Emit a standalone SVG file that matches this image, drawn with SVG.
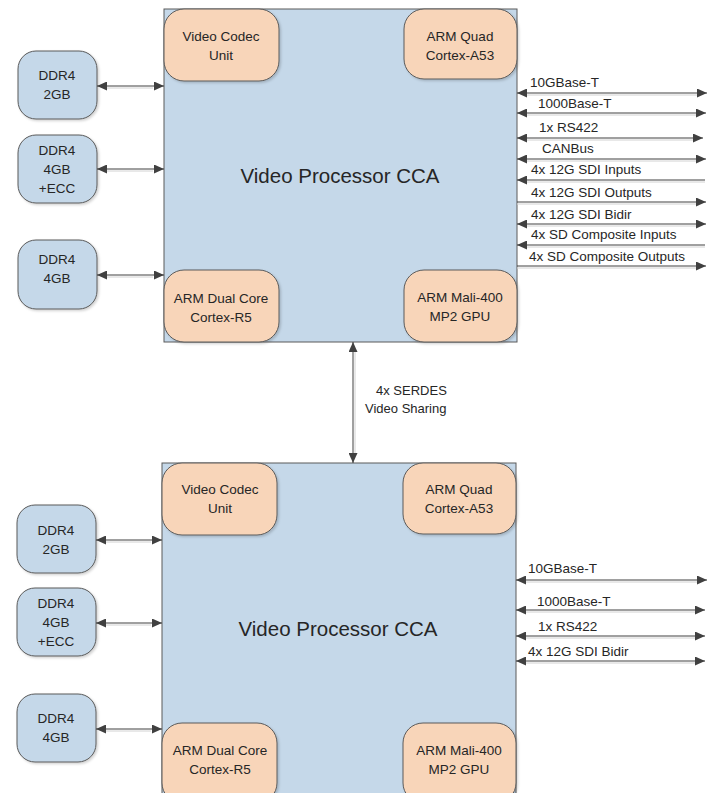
<svg xmlns="http://www.w3.org/2000/svg" width="714" height="793" viewBox="0 0 714 793">
  <defs>
    <marker id="ah" viewBox="0 0 10 9" refX="10" refY="4.5" markerWidth="10" markerHeight="9" markerUnits="userSpaceOnUse" orient="auto-start-reverse">
      <path d="M0,0 L10,4.5 L0,9 z" fill="#404040"/>
    </marker>
    <filter id="sh" x="-10%" y="-10%" width="125%" height="125%">
      <feDropShadow dx="1.5" dy="1.5" stdDeviation="1" flood-color="#000" flood-opacity="0.18"/>
    </filter>
  </defs>
  <style>
    .cca { fill: #c5d8e9; stroke: #5a5a5a; stroke-width: 1; }
    .mem { fill: #c5d8e9; stroke: #5a5a5a; stroke-width: 1; filter: url(#sh); }
    .core { fill: #f8d5b9; stroke: #5a5a5a; stroke-width: 1; filter: url(#sh); }
    text { font-family: "Liberation Sans", Arial, sans-serif; fill: #262626; }
    .t { font-size: 13.5px; text-anchor: middle; }
    .title { font-size: 20.5px; text-anchor: middle; }
    .lbl { font-size: 13.5px; }
    .mid { font-size: 13px; }
    .w { stroke: #404040; stroke-width: 1; fill: none; }
    .ws { stroke: #d2d2d2; stroke-width: 1; fill: none; }
    .both { marker-start: url(#ah); marker-end: url(#ah); }
    .in { marker-start: url(#ah); }
    .out { marker-end: url(#ah); }
  </style>

  <rect width="714" height="793" fill="#ffffff"/>

  <!-- ===== Upper board ===== -->
  <g id="cca-upper">
    <rect class="cca" x="164" y="9" width="353" height="333"/>
    <text class="title" x="340" y="183">Video Processor CCA</text>
  </g>
  <g id="codec-upper">
    <rect class="core" x="164" y="9" width="115" height="72" rx="20"/>
    <text class="t" x="221" y="41">Video Codec</text>
    <text class="t" x="221" y="60">Unit</text>
  </g>
  <g id="a53-upper">
    <rect class="core" x="404" y="9" width="113" height="70" rx="20"/>
    <text class="t" x="460" y="41">ARM Quad</text>
    <text class="t" x="460" y="60">Cortex-A53</text>
  </g>
  <g id="r5-upper">
    <rect class="core" x="164" y="270" width="115" height="72" rx="20"/>
    <text class="t" x="221" y="303">ARM Dual Core</text>
    <text class="t" x="221" y="322">Cortex-R5</text>
  </g>
  <g id="gpu-upper">
    <rect class="core" x="404" y="270" width="113" height="72" rx="20"/>
    <text class="t" x="460" y="302">ARM Mali-400</text>
    <text class="t" x="460" y="321">MP2 GPU</text>
  </g>
  <g id="ddr-2gb-upper">
    <rect class="mem" x="18" y="51" width="79" height="68" rx="18"/>
    <text class="t" x="57" y="80">DDR4</text>
    <text class="t" x="57" y="99">2GB</text>
  </g>
  <g id="ddr-ecc-upper">
    <rect class="mem" x="18" y="135" width="79" height="68" rx="18"/>
    <text class="t" x="57" y="155">DDR4</text>
    <text class="t" x="57" y="174">4GB</text>
    <text class="t" x="57" y="193">+ECC</text>
  </g>
  <g id="ddr-4gb-upper">
    <rect class="mem" x="18" y="240" width="79" height="69" rx="18"/>
    <text class="t" x="57" y="264">DDR4</text>
    <text class="t" x="57" y="283">4GB</text>
  </g>

  <!-- ===== Lower board ===== -->
  <g id="cca-lower">
    <rect class="cca" x="162" y="463" width="354" height="340"/>
    <text class="title" x="338" y="636">Video Processor CCA</text>
  </g>
  <g id="codec-lower">
    <rect class="core" x="162" y="463" width="115" height="72" rx="20"/>
    <text class="t" x="220" y="494">Video Codec</text>
    <text class="t" x="220" y="513">Unit</text>
  </g>
  <g id="a53-lower">
    <rect class="core" x="403" y="463" width="113" height="71" rx="20"/>
    <text class="t" x="459" y="494">ARM Quad</text>
    <text class="t" x="459" y="513">Cortex-A53</text>
  </g>
  <g id="r5-lower">
    <rect class="core" x="162" y="723" width="115" height="80" rx="20"/>
    <text class="t" x="220" y="755">ARM Dual Core</text>
    <text class="t" x="220" y="774">Cortex-R5</text>
  </g>
  <g id="gpu-lower">
    <rect class="core" x="403" y="723" width="113" height="80" rx="20"/>
    <text class="t" x="459" y="755">ARM Mali-400</text>
    <text class="t" x="459" y="774">MP2 GPU</text>
  </g>
  <g id="ddr-2gb-lower">
    <rect class="mem" x="17" y="505" width="79" height="68" rx="18"/>
    <text class="t" x="56" y="535">DDR4</text>
    <text class="t" x="56" y="554">2GB</text>
  </g>
  <g id="ddr-ecc-lower">
    <rect class="mem" x="17" y="588" width="79" height="68" rx="18"/>
    <text class="t" x="56" y="608">DDR4</text>
    <text class="t" x="56" y="627">4GB</text>
    <text class="t" x="56" y="646">+ECC</text>
  </g>
  <g id="ddr-4gb-lower">
    <rect class="mem" x="17" y="694" width="79" height="68" rx="18"/>
    <text class="t" x="56" y="723">DDR4</text>
    <text class="t" x="56" y="742">4GB</text>
  </g>

  <!-- ===== Connectors ===== -->
  <g id="connectors">
    <!-- memory links, upper -->
    <line class="ws" x1="107" y1="88" x2="153" y2="88"/>
    <line class="w both" x1="97" y1="86" x2="164" y2="86"/>
    <line class="ws" x1="107" y1="171" x2="153" y2="171"/>
    <line class="w both" x1="97" y1="169" x2="164" y2="169"/>
    <line class="ws" x1="107" y1="277" x2="153" y2="277"/>
    <line class="w both" x1="97" y1="275" x2="164" y2="275"/>

    <!-- memory links, lower -->
    <line class="ws" x1="106" y1="542" x2="151" y2="542"/>
    <line class="w both" x1="96" y1="540" x2="162" y2="540"/>
    <line class="ws" x1="106" y1="625" x2="151" y2="625"/>
    <line class="w both" x1="96" y1="623" x2="162" y2="623"/>
    <line class="ws" x1="106" y1="731" x2="151" y2="731"/>
    <line class="w both" x1="96" y1="729" x2="162" y2="729"/>

    <!-- board-to-board link -->
    <line class="ws" x1="355" y1="352" x2="355" y2="453"/>
    <line class="w both" x1="353" y1="342" x2="353" y2="463"/>

    <!-- external I/O, upper -->
    <g>
      <line class="ws" x1="527" y1="95" x2="697" y2="95"/>
      <line class="w both" x1="517" y1="93" x2="707" y2="93"/>
      <line class="ws" x1="527" y1="115" x2="696" y2="115"/>
      <line class="w both" x1="517" y1="113" x2="706" y2="113"/>
      <line class="ws" x1="527" y1="140" x2="693" y2="140"/>
      <line class="w both" x1="517" y1="138" x2="703" y2="138"/>
      <line class="ws" x1="527" y1="161" x2="696" y2="161"/>
      <line class="w both" x1="517" y1="159" x2="706" y2="159"/>
      <line class="ws" x1="527" y1="182" x2="705" y2="182"/>
      <line class="w in" x1="517" y1="180" x2="705" y2="180"/>
      <line class="ws" x1="517" y1="204" x2="696" y2="204"/>
      <line class="w out" x1="517" y1="202" x2="706" y2="202"/>
      <line class="ws" x1="527" y1="226" x2="696" y2="226"/>
      <line class="w both" x1="517" y1="224" x2="706" y2="224"/>
      <line class="ws" x1="527" y1="247" x2="705" y2="247"/>
      <line class="w in" x1="517" y1="245" x2="705" y2="245"/>
      <line class="ws" x1="517" y1="268" x2="696" y2="268"/>
      <line class="w out" x1="517" y1="266" x2="706" y2="266"/>
    </g>

    <!-- external I/O, lower -->
    <g>
      <line class="ws" x1="526" y1="582" x2="697" y2="582"/>
      <line class="w both" x1="516" y1="580" x2="707" y2="580"/>
      <line class="ws" x1="526" y1="612" x2="695" y2="612"/>
      <line class="w both" x1="516" y1="610" x2="705" y2="610"/>
      <line class="ws" x1="526" y1="638" x2="695" y2="638"/>
      <line class="w both" x1="516" y1="636" x2="705" y2="636"/>
      <line class="ws" x1="526" y1="663" x2="695" y2="663"/>
      <line class="w both" x1="516" y1="661" x2="705" y2="661"/>
    </g>
  </g>

  <!-- link labels -->
  <g id="labels">
    <text class="mid" x="376" y="395">4x SERDES</text>
    <text class="mid" x="365" y="413">Video Sharing</text>

    <text class="lbl" x="530" y="87">10GBase-T</text>
    <text class="lbl" x="538" y="108">1000Base-T</text>
    <text class="lbl" x="539" y="132">1x RS422</text>
    <text class="lbl" x="542" y="153">CANBus</text>
    <text class="lbl" x="531" y="174">4x 12G SDI Inputs</text>
    <text class="lbl" x="531" y="197">4x 12G SDI Outputs</text>
    <text class="lbl" x="531" y="219">4x 12G SDI Bidir</text>
    <text class="lbl" x="531" y="239">4x SD Composite Inputs</text>
    <text class="lbl" x="529" y="261">4x SD Composite Outputs</text>

    <text class="lbl" x="528" y="573">10GBase-T</text>
    <text class="lbl" x="537" y="606">1000Base-T</text>
    <text class="lbl" x="538" y="631">1x RS422</text>
    <text class="lbl" x="528" y="656">4x 12G SDI Bidir</text>
  </g>
</svg>
